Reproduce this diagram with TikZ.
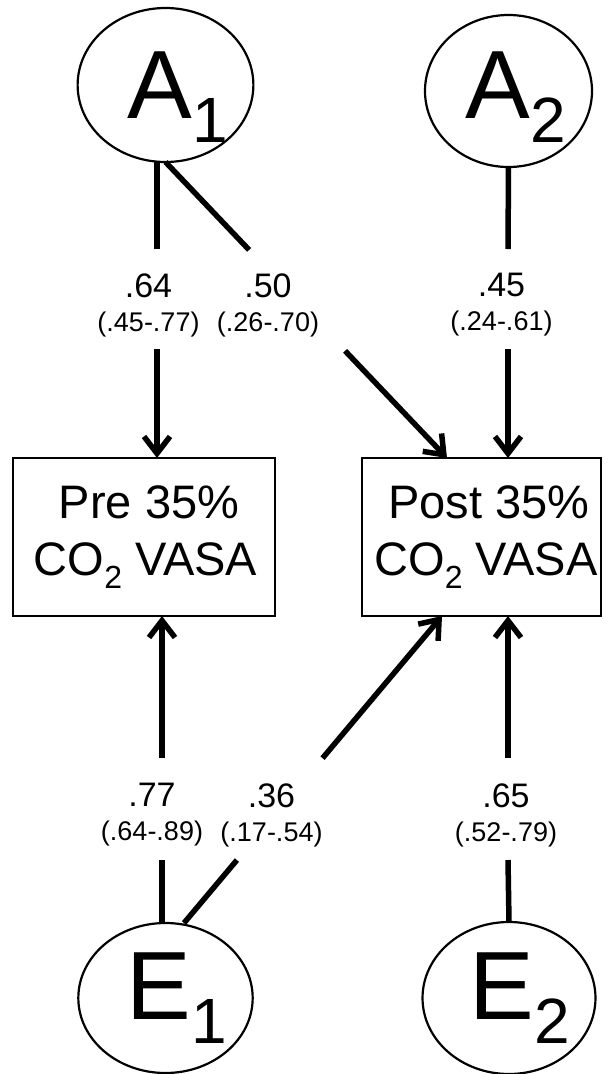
\documentclass[tikz,border=0pt]{standalone}
\usepackage{fontspec}
\setmainfont{Liberation Sans}
\usetikzlibrary{arrows.meta,shapes.geometric,calc}
\newcommand{\latentlabel}[4]{\raisebox{-#4}{\kern#3 #1\raisebox{-24pt}{\fontsize{64}{64}\selectfont #2}}}
\newcommand{\cosub}{\raisebox{-13pt}{\fontsize{32}{32}\selectfont 2}}
\begin{document}
\begin{tikzpicture}[x=1pt,y=-1pt,
  latent/.style={draw, ellipse, line width=2.2pt, inner sep=0pt, outer sep=0pt,
    text height=0pt, text depth=0pt, font=\fontsize{97}{97}\selectfont},
  obs/.style={draw, rectangle, line width=2.6pt, inner sep=0pt, outer sep=0pt,
    align=center, font=\fontsize{47}{57}\selectfont},
  conn/.style={line width=5.5pt},
  arr/.style={conn, -{Straight Barb[length=17pt,width=26pt]}},
  coef/.style={inner sep=0pt, align=center, font=\fontsize{27}{34}\selectfont}]
\useasboundingbox (0,0) rectangle (611,1074);

% latent variables
\node[latent, minimum width=165pt, minimum height=154pt] (A1) at (165.5,85) {\latentlabel{A}{1}{24pt}{33pt}};
\node[latent, minimum width=167pt, minimum height=152pt] (A2) at (508.5,91) {\latentlabel{A}{2}{14pt}{27pt}};
\node[latent, minimum width=165pt, minimum height=150pt] (E1) at (165.5,998) {\latentlabel{E}{1}{23pt}{21pt}};
\node[latent, minimum width=166pt, minimum height=152pt] (E2) at (509,998) {\latentlabel{E}{2}{22pt}{21pt}};

% observed variables
\node[obs, minimum width=262pt, minimum height=158pt] (pre) at (144,537)
  {\hspace*{10pt}Pre 35\%\\\hspace*{3pt}CO\cosub{} VASA};
\node[obs, minimum width=239pt, minimum height=158pt] (post) at (481.5,537)
  {\hspace*{15pt}Post 35\%\\\hspace*{9pt}CO\cosub{} VASA};

% coefficient labels
\node[coef] (l64) at (148.5,305) {{\fontsize{34}{34}\selectfont .64}\\(.45-.77)};
\node[coef] (l50) at (268,305) {{\fontsize{34}{34}\selectfont .50}\\(.26-.70)};
\node[coef] (l45) at (501.5,305) {{\fontsize{34}{34}\selectfont .45}\\(.24-.61)};
\node[coef] (l77) at (152,815) {{\fontsize{34}{34}\selectfont .77}\\(.64-.89)};
\node[coef] (l36) at (271.5,815) {{\fontsize{34}{34}\selectfont .36}\\(.17-.54)};
\node[coef] (l65) at (506,815) {{\fontsize{34}{34}\selectfont .65}\\(.52-.79)};

% gap coordinates
\coordinate (a1g1) at (157,249);
\coordinate (a1g2) at (157,349);
\coordinate (a2g1) at (508,249);
\coordinate (a2g2) at (508,349);
\coordinate (e1g1) at (162,860);
\coordinate (e1g2) at (162,758);
\coordinate (e2g1) at (508,860);
\coordinate (e2g2) at (508,758);
\coordinate (postA) at ([xshift=-34.5pt]post.north);
\coordinate (postB) at ([xshift=-39.5pt]post.south);
\coordinate (e1d) at ([xshift=18.5pt]E1.north);

% A1 -> pre
\draw[conn] ([xshift=-8.5pt]A1.south) -- (a1g1);
\draw[arr] (a1g2) -- (a1g2 |- pre.north);
% A1 -> post
\draw[conn] (A1.south) -- ($(A1.south)!0.297!(postA)$);
\draw[arr] ($(A1.south)!0.638!(postA)$) -- (postA);
% A2 -> post
\draw[conn] (A2.south) -- (a2g1);
\draw[arr] (a2g2) -- (a2g2 |- post.north);
% E1 -> pre
\draw[conn] ([xshift=-3.5pt]E1.north) -- (e1g1);
\draw[arr] (e1g2) -- (e1g2 |- pre.south);
% E1 -> post
\draw[conn] (e1d) -- ($(e1d)!0.205!(postB)$);
\draw[arr] ($(e1d)!0.537!(postB)$) -- (postB);
% E2 -> post
\draw[conn] (E2.north) -- (e2g1);
\draw[arr] (e2g2) -- (e2g2 |- post.south);
\end{tikzpicture}
\end{document}
